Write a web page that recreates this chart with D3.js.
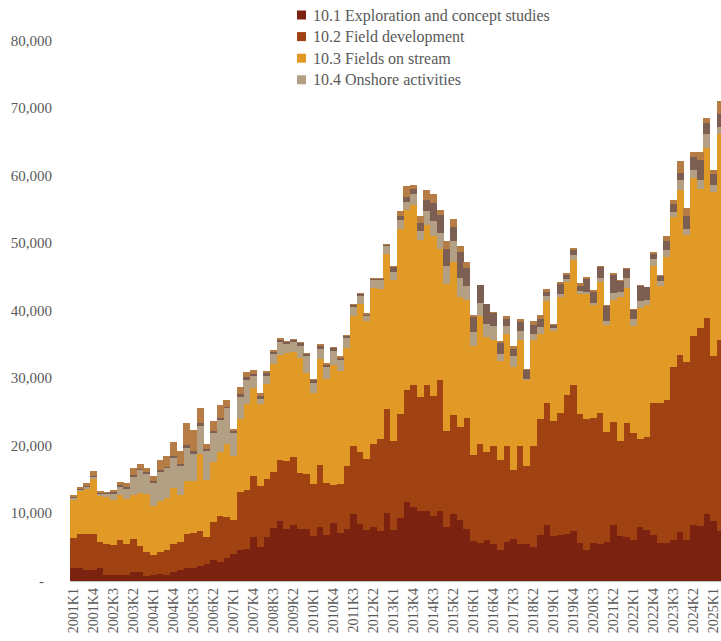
<!DOCTYPE html>
<html>
<head>
<meta charset="utf-8">
<script src="https://cdn.jsdelivr.net/npm/d3@7"></script>
<style>
  body { margin: 0; background: #fff; }
  svg text { font-family: "Palatino Linotype", "Book Antiqua", Palatino, "Liberation Serif", serif; fill: #595959; }
</style>
</head>
<body>
<div id="chart"></div>
<script>
// quarters 2001K1 .. 2025K2
const years = d3.range(2001, 2026);
const quarters = [];
years.forEach(y => [1, 2, 3, 4].forEach(q => quarters.push(`${y}K${q}`)));
quarters.splice(98);

const seriesNames = [
    '10.1 Exploration and concept studies',
    '10.2 Field development',
    '10.3 Fields on stream',
    '10.4 Onshore activities',
    'other1',
    'other2'
];

const exploration = [
    1900,1900,1600,1600,1900,850,750,850,850,1250,1250,600,850,1000,750,1250,1600,1900,1800,2200,2500,3100,2700,3300,4000,
    4500,4700,6500,4900,6500,7750,8750,7650,8150,7650,7650,6550,7900,6800,8550,7050,7650,9800,8400,7550,7900,7300,10000,7550,9250,
    11600,10950,10350,10250,9500,10350,7900,9900,8900,7650,5900,5550,6000,5450,4550,5700,6150,5350,5450,4950,6800,8150,6650,
    6750,6900,7300,5600,4550,5600,5350,5700,8250,6650,6400,5950,7900,7500,6800,5600,5550,5950,7150,5950,8250,8050,9800,8750,7400
];
const fieldDevelopment = [
    4400,5000,5300,5300,3800,4600,4450,5100,4600,4900,3800,3600,3000,3200,3700,4200,4100,5000,5200,5200,3900,5500,6800,6100,4900,
    8650,8750,9050,9150,8550,8300,9050,10000,10200,8350,8150,7750,9250,7650,5650,7250,9250,10150,10700,10400,12250,13700,15350,13100,15350,
    16650,18050,16800,18650,17900,19300,14300,14550,13900,16450,12750,14700,13100,14450,13350,14300,10250,14650,11550,15000,17150,18150,16950,
    18050,20650,21700,19100,19400,18500,19450,16300,15300,13950,16900,15850,13000,13800,19500,20700,21200,25750,26300,26400,27900,29350,29100,24550,28300
];
const fieldsOnStream = [
    5700,6300,6700,8200,6800,6900,6750,6650,6650,6450,7950,8550,7250,7650,7750,8250,7000,7900,7800,11350,8500,8900,9500,10850,9600,
    10750,12750,13000,12100,14050,16050,15550,16050,15450,17000,14900,13450,15700,15400,17800,16700,17600,19200,21800,20450,23150,22200,23050,23800,27500,
    26700,26700,23300,23700,23700,19400,21750,22700,19250,17500,16150,18900,16950,15750,14550,16450,15300,15650,12650,15700,12600,15150,13300,
    17200,16650,18550,17800,18450,16750,19400,15800,18000,21400,20000,15950,19500,19500,20350,17400,21250,22150,24450,18900,23500,20650,25200,24250,30450
];
const onshore = [
    200,200,300,250,350,450,900,1300,1500,2800,3300,3100,3400,4200,4400,4500,4200,4900,4000,4200,4300,4400,4800,5300,3300,
    3300,3550,1700,750,1250,1400,2000,1300,1500,1800,2600,1500,1500,1750,2000,1600,1500,1350,1200,750,1150,1250,1100,1250,1250,
    1150,1500,1400,2100,2200,2400,2700,3200,2800,2000,2050,2000,1900,2000,1050,1200,1500,1300,250,900,1000,750,500,
    500,400,600,350,350,300,600,650,1000,750,1550,1000,950,750,1000,650,900,750,1500,850,1100,1250,2050,1000,1100
];
const other1 = [
    150,150,150,150,150,150,200,250,250,250,250,200,250,250,250,250,400,400,400,400,250,250,250,200,300,
    400,400,300,500,350,350,350,350,350,350,250,500,400,400,450,400,250,250,300,250,200,250,200,750,650,
    750,800,1100,1600,2650,2650,2500,2000,3800,2750,2200,2600,2950,1950,1700,1150,1050,1350,1300,1250,1250,500,500,
    1500,700,750,850,1950,1600,1700,2150,2700,1550,1350,1350,2350,1900,750,700,1450,1250,1000,1950,1950,2950,1600,1700,1800
];
const other2 = [
    250,250,350,650,200,200,400,500,600,950,700,600,800,1500,1650,2100,1900,3200,3100,2200,750,1500,1900,1000,300,
    1000,800,600,350,400,350,250,150,150,250,200,150,250,250,150,200,150,150,200,250,100,150,200,100,700,
    1600,600,1000,1500,1350,850,1150,1250,900,850,250,100,100,150,300,450,450,450,150,600,600,450,100,
    250,250,350,350,250,350,150,250,250,250,100,150,100,100,250,150,650,500,1750,1150,850,1200,800,600,2050
];

const yTicks = [0, 10000, 20000, 30000, 40000, 50000, 60000, 70000, 80000];
const colors = ['#7b2210', '#a04212', '#e19a25', '#b29f84', '#7d5e52', '#b67c46'];

const table = quarters.map((q, i) => ({
    quarter: q,
    s0: exploration[i],
    s1: fieldDevelopment[i],
    s2: fieldsOnStream[i],
    s3: onshore[i],
    s4: other1[i],
    s5: other2[i]
}));

const width = 721;
const height = 641;
const left = 70;
const barW = 6.667;

const svg = d3.select('#chart')
    .append('svg')
    .attr('width', width)
    .attr('height', height);

const x = d3.scaleBand()
    .domain(quarters)
    .range([left, left + barW * quarters.length])
    .padding(0);

const y = d3.scaleLinear()
    .domain([0, 80000])
    .range([580.5, 40.5]);

const stack = d3.stack().keys(['s0', 's1', 's2', 's3', 's4', 's5']);
const layers = stack(table);

svg.append('g')
    .selectAll('g')
    .data(layers)
    .enter()
    .append('g')
    .attr('fill', (d, i) => colors[i])
    .selectAll('rect')
    .data(d => d)
    .enter()
    .append('rect')
    .attr('x', d => x(d.data.quarter))
    .attr('width', x.bandwidth() + 0.4)
    .attr('y', d => y(d[1]))
    .attr('height', d => Math.max(0, y(d[0]) - y(d[1])))
    .attr('shape-rendering', 'crispEdges');

// y axis
const yAxis = svg.append('g')
    .attr('transform', 'translate(55,0)')
    .call(d3.axisLeft(y)
        .tickValues(yTicks)
        .tickSize(0)
        .tickPadding(3)
        .tickFormat(d => d === 0 ? '-' : d3.format(',')(d)));
yAxis.select('.domain').remove();
yAxis.selectAll('text')
    .style('font-size', '15px')
    .attr('dx', d => d === 0 ? -8 : 0);

// x axis
const xAxis = svg.append('g')
    .attr('transform', 'translate(0,581)')
    .call(d3.axisBottom(x)
        .tickValues(quarters.filter((d, i) => i % 3 === 0))
        .tickSize(0));
xAxis.select('.domain')
    .attr('stroke', '#bfbfbf')
    .attr('stroke-width', 1);
xAxis.selectAll('text')
    .attr('transform', 'rotate(-90)')
    .attr('x', -7)
    .attr('y', 0)
    .attr('dy', '0.35em')
    .style('text-anchor', 'end')
    .style('font-size', '14px');

// legend (only the four named series)
const legend = svg.append('g')
    .selectAll('g')
    .data(seriesNames.slice(0, 4))
    .enter()
    .append('g')
    .attr('transform', (d, i) => `translate(297, ${15 + i * 21.6})`);

legend.append('rect')
    .attr('x', 0)
    .attr('y', -4.5)
    .attr('width', 9)
    .attr('height', 9)
    .attr('fill', (d, i) => colors[i]);

legend.append('text')
    .attr('x', 16)
    .attr('y', 0)
    .attr('dy', '0.35em')
    .style('font-size', '16px')
    .text(d => d);
</script>
</body>
</html>
